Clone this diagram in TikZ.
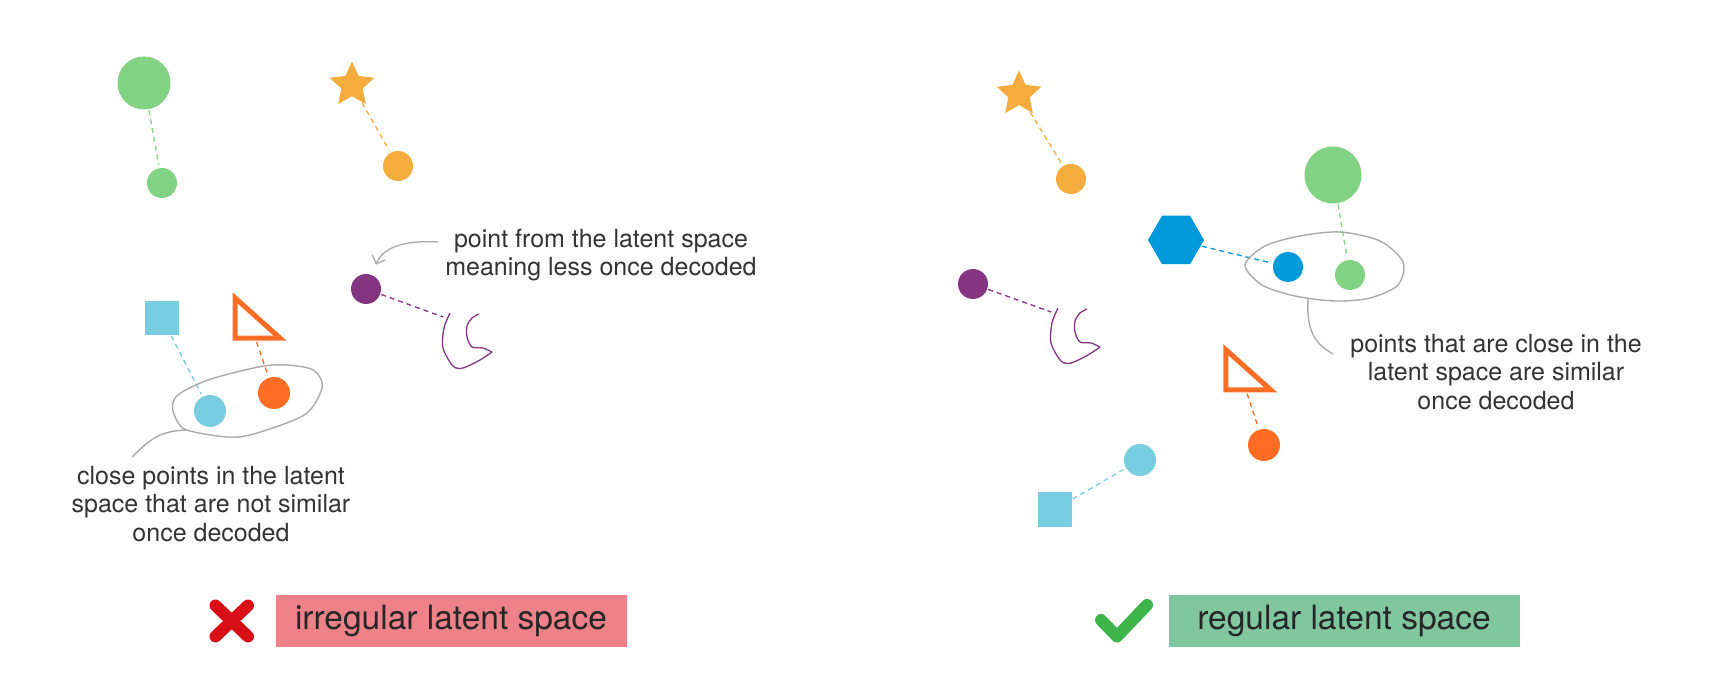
\documentclass[tikz,border=0pt]{standalone}
\usepackage{fontspec}
\setmainfont{TeX Gyre Heros}
\usetikzlibrary{shapes.geometric,arrows.meta}

\definecolor{leafgreen}{HTML}{82D283}
\definecolor{sunorange}{HTML}{F4AC3D}
\definecolor{plum}{HTML}{833582}
\definecolor{skyblue}{HTML}{78CDE1}
\definecolor{flame}{HTML}{FF6D24}
\definecolor{ocean}{HTML}{0099DA}
\definecolor{wire}{HTML}{AAAAAA}
\definecolor{badred}{HTML}{D90F17}
\definecolor{goodgreen}{HTML}{3DB54A}
\definecolor{badbox}{HTML}{EF8288}
\definecolor{goodbox}{HTML}{80C79F}
\definecolor{ink}{HTML}{333333}

\tikzset{
  spot/.style={circle, fill=#1, inner sep=0pt, minimum size=30pt},
  starspot/.style={star, star points=5, star point ratio=2.1, fill=sunorange, inner sep=0pt, minimum size=47pt},
  tile/.style={rectangle, fill=skyblue, inner sep=0pt, minimum size=34pt},
  tether/.style={#1, line width=1.3pt, dash pattern=on 5pt off 4pt, shorten <=1pt, shorten >=3pt},
  note/.style={align=center, inner sep=0pt, text=ink, font=\fontsize{25}{28.3}\selectfont},
  verdict/.style={fill=#1, minimum width=351pt, minimum height=52pt, inner sep=0pt, text=black!85, font=\fontsize{33.5}{40}\selectfont},
  moon/.pic={
    \draw[plum, line width=1.3pt] plot[smooth] coordinates{(0,0) (-6,15) (-7,35) (3,53) (13,55) (30,47) (42,39)}
      plot[smooth] coordinates{(42,39) (33,35) (22,34) (17,24) (17,13) (22,5) (29,1)};
    \coordinate (-hook) at (-4,5);
  },
  wedge/.pic={
    \draw[flame, line width=5pt] (0,0) -- (0,40.2) -- (44.9,40.2) -- cycle;
    \coordinate (-foot) at (21,43);
  }
}

\begin{document}
\begin{tikzpicture}[x=1pt, y=-1pt]
\useasboundingbox (0,0) rectangle (1717,700);

\node [spot=leafgreen, minimum size=53pt] (lbig) at (144,83) {};
\node [spot=leafgreen] (lsmall) at (162,183) {};
\node [starspot] (lstar) at (352,85) {};
\node [spot=sunorange] (lorange) at (398,166) {};
\node [spot=plum] (lpurple) at (366,289) {};
\pic (lmoon) at (450,313) {moon};
\node [tile] (lsquare) at (162,318) {};
\pic (ltri) at (235.2,298) {wedge};
\node [spot=skyblue, minimum size=32pt] (lcyan) at (210,411) {};
\node [spot=flame, minimum size=32pt] (lred) at (274,393) {};

\draw [tether=leafgreen] (lbig) -- (lsmall);
\draw [tether=sunorange] (lstar) -- (lorange);
\draw [tether=plum] (lpurple) -- (lmoon-hook);
\draw [tether=skyblue] (lsquare) -- (lcyan);
\draw [tether=flame] (ltri-foot) -- (lred);

\draw [wire, line width=1.4pt] plot [smooth cycle] coordinates{(172.7,404) (180,393.3) (210,379.3) (260,366.7) (286.7,365) (313.3,370) (322.3,386.7) (306.7,413.3) (266.7,430) (233.3,437.3) (186.7,430) (175,416.7)};
\coordinate (lring) at (186.7,430);
\coordinate (lstem) at (132,457);
\draw [wire, line width=1.4pt] (lring) .. controls (158,431) and (150,440) .. (lstem);
\node [note] (lclose) at (211,504) {close points in the latent\\space that are not similar\\once decoded};

\node [note] (lnote) at (601,255) {point from the latent space\\meaning less once decoded};
\draw [wire, line width=1.3pt, -{Straight Barb[length=7pt,width=14pt]}, shorten >=11pt] ([shift={(-7,-13)}]lnote.west) .. controls (405,240) and (383,247) .. (lpurple);

\node [starspot] (rstar) at (1019,94) {};
\node [spot=sunorange] (rorange) at (1071,179) {};
\node [spot=leafgreen, minimum size=57pt] (rbig) at (1333,175) {};
\node [spot=leafgreen] (rsmall) at (1350,275) {};
\node [regular polygon, regular polygon sides=6, fill=ocean, inner sep=0pt, minimum size=56pt] (rhex) at (1176,240) {};
\node [spot=ocean] (rblue) at (1288,267) {};
\node [spot=plum] (rpurple) at (973,284) {};
\pic (rmoon) at (1058,308) {moon};
\pic (rtri) at (1225.8,349.7) {wedge};
\node [spot=flame, minimum size=32pt] (rred) at (1264,445) {};
\node [spot=skyblue, minimum size=32pt] (rcyan) at (1140,460) {};
\node [tile] (rsquare) at (1054.5,509.5) {};

\draw [tether=sunorange] (rstar) -- (rorange);
\draw [tether=leafgreen] (rbig) -- (rsmall);
\draw [tether=ocean] (rhex) -- (rblue);
\draw [tether=plum] (rpurple) -- (rmoon-hook);
\draw [tether=flame] (rtri-foot) -- (rred);
\draw [tether=skyblue] (rsquare) -- (rcyan);

\draw [wire, line width=1.4pt] plot [smooth cycle] coordinates{(1245,265) (1265,246) (1300,236) (1340,232) (1380,241) (1403,262) (1398,285) (1370,298) (1335,301) (1295,296) (1262,285)};
\coordinate (rring) at (1308,299);
\coordinate (rstem) at (1333,354);
\draw [wire, line width=1.4pt] (rring) .. controls (1306,335) and (1318,345) .. (rstem);
\node [note] (rclose) at (1496,372) {points that are close in the\\latent space are similar\\once decoded};

\node [verdict=badbox] (badlabel) at (451,621) {irregular latent space};
\draw [badred, line width=12pt, line cap=round] (215.5,605.5) -- (248,636.5) (248,605.5) -- (215.5,636.5);
\node [verdict=goodbox] (goodlabel) at (1344,621) {regular latent space};
\draw [goodgreen, line width=12pt, line cap=round, line join=round] (1101,620) -- (1117,636.5) -- (1147,605);
\end{tikzpicture}
\end{document}
